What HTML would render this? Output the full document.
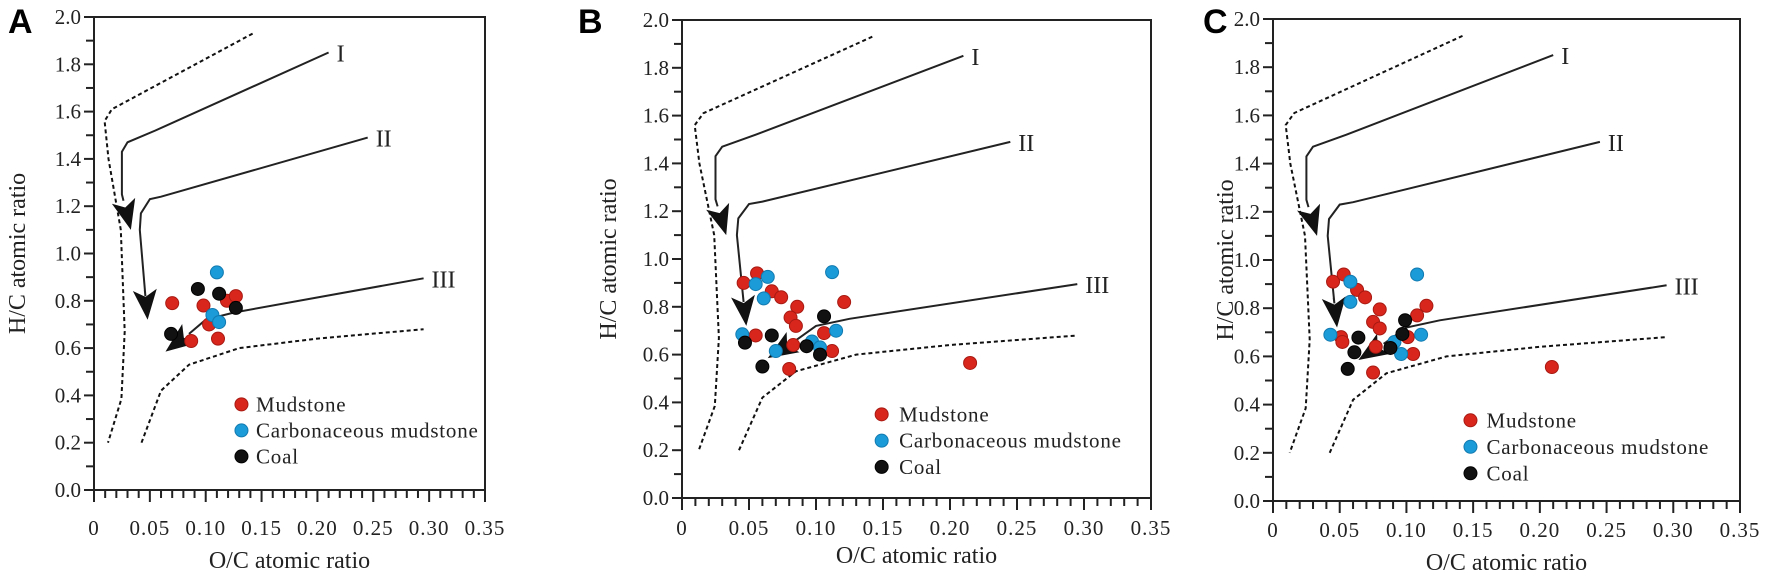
<!DOCTYPE html>
<html><head><meta charset="utf-8">
<style>
html,body{margin:0;padding:0;background:#fff;}
svg{display:block;}
text{font-family:"Liberation Serif",serif;fill:#222;}
.letter{font-family:"Liberation Sans",sans-serif;font-weight:bold;fill:#000;}
</style></head>
<body>
<svg id="fig" width="1772" height="578" viewBox="0 0 1772 578" xmlns="http://www.w3.org/2000/svg"></svg>
<script>
// ---- data (O/C, H/C) ----
const xTicks = ["0","0.05","0.10","0.15","0.20","0.25","0.30","0.35"];
const yTicks = ["0.0","0.2","0.4","0.6","0.8","1.0","1.2","1.4","1.6","1.8","2.0"];
const legendLabels = ["Mudstone","Carbonaceous mudstone","Coal"];
const curveLabels = ["I","II","III"];

const aMudOC = [0.070,0.098,0.103,0.087,0.111,0.119,0.127];
const aMudHC = [0.79,0.78,0.70,0.63,0.64,0.80,0.82];
const aCarbOC = [0.110,0.106,0.112];
const aCarbHC = [0.92,0.74,0.71];
const aCoalOC = [0.093,0.112,0.127,0.069];
const aCoalHC = [0.85,0.83,0.77,0.66];

const bMudOC = [0.046,0.056,0.067,0.074,0.086,0.081,0.085,0.055,0.083,0.106,0.112,0.121,0.080,0.215];
const bMudHC = [0.90,0.94,0.865,0.84,0.80,0.755,0.72,0.68,0.64,0.69,0.615,0.82,0.54,0.565];
const bCarbOC = [0.055,0.064,0.061,0.112,0.045,0.070,0.097,0.103,0.115];
const bCarbHC = [0.895,0.925,0.835,0.945,0.685,0.615,0.655,0.63,0.70];
const bCoalOC = [0.047,0.067,0.106,0.093,0.103,0.060];
const bCoalHC = [0.65,0.68,0.76,0.635,0.60,0.55];

const cMudOC = [0.045,0.053,0.063,0.069,0.080,0.075,0.080,0.051,0.052,0.077,0.101,0.108,0.115,0.105,0.075,0.209];
const cMudHC = [0.91,0.94,0.876,0.845,0.795,0.743,0.716,0.68,0.66,0.64,0.68,0.77,0.81,0.61,0.533,0.556];
const cCarbOC = [0.058,0.058,0.108,0.043,0.091,0.096,0.111];
const cCarbHC = [0.91,0.826,0.94,0.69,0.66,0.61,0.69];
const cCoalOC = [0.064,0.061,0.056,0.088,0.097,0.099];
const cCoalHC = [0.678,0.617,0.548,0.635,0.693,0.75];

// evolution path curves
const upperBoundOC = [0.142,0.016,0.0095,0.013,0.024,0.0275,0.0245,0.0125];
const upperBoundHC = [1.93,1.61,1.56,1.40,1.10,0.67,0.385,0.20];
const lowerBoundOC = [0.0425,0.06,0.085,0.13,0.20,0.295];
const lowerBoundHC = [0.20,0.42,0.53,0.60,0.64,0.68];
const typeIOC = [0.21,0.055,0.03,0.025,0.025,0.033];
const typeIHC = [1.85,1.52,1.47,1.43,1.25,1.10];
const typeIIOC = [0.245,0.06,0.05,0.042,0.041,0.046,0.048];
const typeIIHC = [1.49,1.24,1.23,1.17,1.10,0.82,0.72];
const typeIIIOC = [0.295,0.125,0.10,0.085,0.064];
const typeIIIHC = [0.895,0.75,0.72,0.66,0.585];

const panels = [
  {id:"a",letter:"A",lx:8,ly:33,x0:94,x1:485,yTop:17,yBot:490,ytx:17,xlabY:535,xtitY:568,
   leg:[0.132,0.362,0.145], series:[[aMudOC,aMudHC],[aCarbOC,aCarbHC],[aCoalOC,aCoalHC]]},
  {id:"b",letter:"B",lx:578,ly:33,x0:682,x1:1151,yTop:20,yBot:498,ytx:608,xlabY:535,xtitY:563,
   leg:[0.149,0.35,0.162], series:[[bMudOC,bMudHC],[bCarbOC,bCarbHC],[bCoalOC,bCoalHC]]},
  {id:"c",letter:"C",lx:1203,ly:33,x0:1273,x1:1740,yTop:19,yBot:501,ytx:1225,xlabY:537,xtitY:570,
   leg:[0.148,0.335,0.16], series:[[cMudOC,cMudHC],[cCarbOC,cCarbHC],[cCoalOC,cCoalHC]]}
];
const colors = ["#d8261d","#1b9bd7","#111111"];
const strokes = ["#a81a12","#127ab0","#000"];

const NS = "http://www.w3.org/2000/svg";
const svg = document.getElementById("fig");
function mk(tag, attrs, parent){ const e=document.createElementNS(NS,tag); for(const k in attrs) e.setAttribute(k,attrs[k]); (parent||svg).appendChild(e); return e; }

panels.forEach(p=>{
  const g = mk("g",{});
  
  
  const W=p.x1-p.x0, H=p.yBot-p.yTop;
  const sx=v=>p.x0+v/0.35*W, sy=v=>p.yBot-v/2*H;

  const L = mk("text",{x:p.lx,y:p.ly,"font-size":34,class:"letter"},g); L.textContent=p.letter;
  
  

  const frame = mk("rect",{x:p.x0,y:p.yTop,width:W,height:H,fill:"none",stroke:"#222","stroke-width":2},g);
  
  

  for(let i=0;i<=20;i++){
    const y=sy(i*0.1), major=i%2===0;
    mk("line",{x1:p.x0-(major?10:8),x2:p.x0,y1:y,y2:y,stroke:"#222","stroke-width":2},g);
  }
  yTicks.forEach((t,i)=>{
    const tx=mk("text",{x:p.x0-13,y:sy(i*0.2)+7,"font-size":21,"text-anchor":"end"},g); tx.textContent=t;
    
    
  });
  for(let i=0;i<=35;i++){
    const x=sx(i*0.01), major=i%5===0;
    mk("line",{x1:x,x2:x,y1:p.yBot,y2:p.yBot+(major?12:8),stroke:"#222","stroke-width":2},g);
  }
  xTicks.forEach((t,i)=>{
    const tx=mk("text",{x:sx(i*0.05),y:p.xlabY,"font-size":21,"text-anchor":"middle","letter-spacing":1},g); tx.textContent=t;
    
    
  });
  const xt=mk("text",{x:(p.x0+p.x1)/2,y:p.xtitY,"font-size":24,"text-anchor":"middle"},g); xt.textContent="O/C atomic ratio";
  
  
  const cy=(p.yTop+p.yBot)/2;
  const yt=mk("text",{x:p.ytx,y:cy,"font-size":24,"text-anchor":"middle",transform:`rotate(-90 ${p.ytx} ${cy})`,dy:8},g); yt.textContent="H/C atomic ratio";
  
  

  const poly=(xs,ys)=>xs.map((v,i)=>sx(v).toFixed(1)+","+sy(ys[i]).toFixed(1)).join(" ");
  const b1=mk("polyline",{points:poly(upperBoundOC,upperBoundHC),fill:"none",stroke:"#111","stroke-width":2,"stroke-dasharray":"4,3"},g);
  
  
  const b2=mk("polyline",{points:poly(lowerBoundOC,lowerBoundHC),fill:"none",stroke:"#111","stroke-width":2,"stroke-dasharray":"4,3"},g);
  
  

  [[typeIOC,typeIHC],[typeIIOC,typeIIHC],[typeIIIOC,typeIIIHC]].forEach((c,k)=>{
    const n=c[0].length;
    const xs=c[0].slice(0,n-1), ys=c[1].slice(0,n-1);
    const tipX=sx(c[0][n-1]), tipY=sy(c[1][n-1]);
    const px=sx(xs[n-2]), py=sy(ys[n-2]);
    let dx=tipX-px, dy=tipY-py; const len=Math.hypot(dx,dy); dx/=len; dy/=len;
    const AL=30, AW=12;
    const bx=tipX-dx*AL, by=tipY-dy*AL;
    const line=mk("polyline",{points:poly(xs,ys)+" "+bx.toFixed(1)+","+by.toFixed(1),fill:"none",stroke:"#222","stroke-width":2},g);
    
    
    const ah=mk("polygon",{points:`${tipX},${tipY} ${bx-dy*AW},${by+dx*AW} ${bx+dx*7},${by+dy*7} ${bx+dy*AW},${by-dx*AW}`,fill:"#111"},g);
    
    
    const lb=mk("text",{x:sx(c[0][0])+8,y:sy(c[1][0])+9,"font-size":24},g); lb.textContent=curveLabels[k];
    
    
  });

  p.series.forEach((s,k)=>{
    s[0].forEach((v,i)=>{
      const c=mk("circle",{cx:sx(v),cy:sy(s[1][i]),r:6.5,fill:colors[k],stroke:strokes[k],"stroke-width":1},g);
      
      
    });
  });

  legendLabels.forEach((t,k)=>{
    const yy=sy(p.leg[1])+k*(sy(0)-sy(0.11));
    const m=mk("circle",{cx:sx(p.leg[0]),cy:yy,r:6.5,fill:colors[k],stroke:strokes[k],"stroke-width":1},g);
    
    
    const tx=mk("text",{x:sx(p.leg[2]),y:yy+7,"font-size":21,"letter-spacing":0.8},g); tx.textContent=t;
    
    
  });
});
</script>
</body></html>
